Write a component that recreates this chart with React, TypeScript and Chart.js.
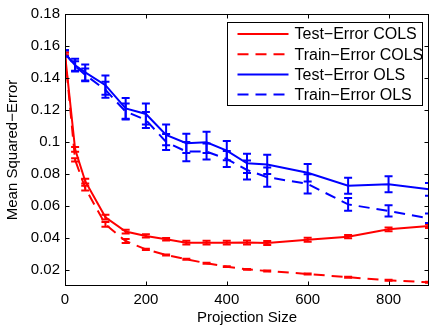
import { useEffect, useRef } from 'react';
import { Chart, registerables } from 'chart.js';

Chart.register(...registerables);

const projectionSizes = [0, 25, 50, 100, 150, 200, 250, 300, 350, 400, 450, 500, 600, 700, 800, 900];

const testCOLS = [0.155, 0.0954, 0.0755, 0.053, 0.044, 0.0413, 0.0392, 0.0371, 0.0371, 0.0371, 0.0372, 0.0369, 0.0389, 0.0408, 0.0454, 0.0475];
const testCOLSErr = [0.001, 0.0015, 0.0015, 0.0015, 0.0012, 0.001, 0.0008, 0.0012, 0.0012, 0.0012, 0.0012, 0.0012, 0.0012, 0.001, 0.0012, 0.0012];
const trainCOLS = [0.155, 0.0888, 0.0712, 0.0485, 0.0381, 0.0329, 0.0294, 0.0267, 0.0242, 0.0221, 0.0204, 0.0194, 0.0175, 0.0155, 0.0136, 0.0123];
const trainCOLSErr = [0.001, 0.001, 0.0015, 0.0015, 0.0012, 0.0004, 0.0003, 0.0003, 0.0003, 0.0003, 0.0003, 0.0003, 0.0003, 0.0003, 0.0003, 0.0003];
const testOLS = [0.1554, 0.148, 0.1435, 0.1355, 0.121, 0.1175, 0.1044, 0.0992, 0.0998, 0.0946, 0.0867, 0.086, 0.0808, 0.0727, 0.0736, 0.0704];
const testOLSErr = [0.002, 0.004, 0.005, 0.006, 0.0065, 0.0065, 0.0065, 0.006, 0.0066, 0.006, 0.006, 0.006, 0.0055, 0.005, 0.005, 0.004];
const trainOLS = [0.1554, 0.1475, 0.142, 0.1326, 0.119, 0.1138, 0.1, 0.094, 0.094, 0.0894, 0.0825, 0.078, 0.0738, 0.061, 0.0569, 0.0523];
const trainOLSErr = [0.002, 0.003, 0.004, 0.005, 0.005, 0.005, 0.005, 0.006, 0.005, 0.005, 0.006, 0.006, 0.006, 0.004, 0.0035, 0.003];

const seriesLabels = ['Test\u2212Error COLS', 'Train\u2212Error COLS', 'Test\u2212Error OLS', 'Train\u2212Error OLS'];
const xTickValues = [0, 200, 400, 600, 800];
const yTickValues = [0.02, 0.04, 0.06, 0.08, 0.1, 0.12, 0.14, 0.16, 0.18];
const yTickLabels = ['0.02', '0.04', '0.06', '0.08', '0.1', '0.12', '0.14', '0.16', '0.18'];
const xAxisTitle = 'Projection Size';
const yAxisTitle = 'Mean Squared\u2212Error';

const FONT_FAMILY = '"Liberation Sans", Arial, Helvetica, sans-serif';
const DASH = [11, 7];

const errorBarsPlugin = {
  id: 'errorBars',
  afterDatasetsDraw(chart: any) {
    const { ctx, chartArea: a, scales } = chart;
    const xs = scales.x;
    const ys = scales.y;
    ctx.save();
    ctx.beginPath();
    ctx.rect(a.left, a.top, a.right - a.left, a.bottom - a.top);
    ctx.clip();
    chart.data.datasets.forEach((ds: any) => {
      const errs: number[] = ds.errors;
      if (!errs) return;
      ctx.strokeStyle = ds.borderColor;
      ctx.lineWidth = 2;
      ctx.setLineDash([]);
      ds.data.forEach((pt: any, i: number) => {
        const px = xs.getPixelForValue(pt.x);
        const yTop = ys.getPixelForValue(pt.y + errs[i]);
        const yBot = ys.getPixelForValue(pt.y - errs[i]);
        const hw = 4;
        ctx.beginPath();
        ctx.moveTo(px, yTop);
        ctx.lineTo(px, yBot);
        ctx.moveTo(px - hw, yTop);
        ctx.lineTo(px + hw, yTop);
        ctx.moveTo(px - hw, yBot);
        ctx.lineTo(px + hw, yBot);
        ctx.stroke();
      });
    });
    ctx.restore();
  },
};

const frameAndLegendPlugin = {
  id: 'frameAndLegend',
  afterDraw(chart: any) {
    const { ctx, chartArea: a, scales } = chart;
    const xs = scales.x;
    const ys = scales.y;
    ctx.save();
    ctx.setLineDash([]);
    ctx.strokeStyle = '#000';
    ctx.lineWidth = 1;
    const L = Math.round(a.left) + 0.5;
    const R = Math.round(a.right) - 0.5;
    const T = Math.round(a.top) + 0.5;
    const B = Math.round(a.bottom) - 0.5;
    ctx.strokeRect(L, T, R - L, B - T);
    const tl = 4;
    ctx.beginPath();
    xTickValues.forEach((v) => {
      const px = Math.round(xs.getPixelForValue(v)) + 0.5;
      ctx.moveTo(px, B);
      ctx.lineTo(px, B - tl);
      ctx.moveTo(px, T);
      ctx.lineTo(px, T + tl);
    });
    yTickValues.forEach((v) => {
      const py = Math.round(ys.getPixelForValue(v)) + 0.5;
      ctx.moveTo(L, py);
      ctx.lineTo(L + tl, py);
      ctx.moveTo(R, py);
      ctx.lineTo(R - tl, py);
    });
    ctx.stroke();

    // legend
    const boxR = Math.round(a.right) - 6.5;
    const boxL = boxR - 195;
    const boxT = Math.round(a.top) + 8.5;
    const boxB = boxT + 83;
    ctx.fillStyle = '#fff';
    ctx.fillRect(boxL, boxT, boxR - boxL, boxB - boxT);
    ctx.strokeStyle = '#000';
    ctx.lineWidth = 1;
    ctx.strokeRect(boxL, boxT, boxR - boxL, boxB - boxT);
    ctx.font = `16px ${FONT_FAMILY}`;
    ctx.textBaseline = 'middle';
    ctx.textAlign = 'left';
    chart.data.datasets.forEach((ds: any, i: number) => {
      const cy = boxT + 11.5 + i * 20.2;
      ctx.strokeStyle = ds.borderColor;
      ctx.lineWidth = 2;
      ctx.setLineDash(ds.borderDash || []);
      ctx.beginPath();
      ctx.moveTo(boxL + 10, cy);
      ctx.lineTo(boxL + 61, cy);
      ctx.stroke();
      ctx.setLineDash([]);
      ctx.fillStyle = '#000';
      ctx.fillText(ds.label, boxL + 67, cy + 1);
    });
    ctx.restore();
  },
};

function toPoints(values: number[]) {
  return values.map((v, i) => ({ x: projectionSizes[i], y: v }));
}

export default function App() {
  const canvasRef = useRef<HTMLCanvasElement | null>(null);

  useEffect(() => {
    if (!canvasRef.current) return;
    const font = { family: FONT_FAMILY, size: 15 };
    const chart = new Chart(canvasRef.current, {
      type: 'line',
      data: {
        datasets: [
          { label: seriesLabels[0], data: toPoints(testCOLS), errors: testCOLSErr, borderColor: '#ff0000', borderWidth: 2, pointRadius: 0, fill: false, tension: 0 } as any,
          { label: seriesLabels[1], data: toPoints(trainCOLS), errors: trainCOLSErr, borderColor: '#ff0000', borderWidth: 2, borderDash: DASH, pointRadius: 0, fill: false, tension: 0 } as any,
          { label: seriesLabels[2], data: toPoints(testOLS), errors: testOLSErr, borderColor: '#0000ff', borderWidth: 2, pointRadius: 0, fill: false, tension: 0 } as any,
          { label: seriesLabels[3], data: toPoints(trainOLS), errors: trainOLSErr, borderColor: '#0000ff', borderWidth: 2, borderDash: DASH, pointRadius: 0, fill: false, tension: 0 } as any,
        ],
      },
      options: {
        responsive: false,
        animation: false,
        devicePixelRatio: 1,
        layout: { padding: { top: 14, right: 1, left: 0, bottom: 0 } },
        plugins: { legend: { display: false }, tooltip: { enabled: false } },
        scales: {
          x: {
            type: 'linear',
            min: 0,
            max: 900,
            afterBuildTicks: (s: any) => { s.ticks = xTickValues.map((v) => ({ value: v })); },
            afterFit: (s: any) => { s.height = 41; },
            grid: { display: false, drawTicks: false },
            border: { display: false },
            ticks: { padding: 5, font, color: '#000', maxRotation: 0, autoSkip: false, callback: (v: any) => String(v) },
            title: { display: true, text: xAxisTitle, font, color: '#000', padding: { top: 0, bottom: 0 } },
          },
          y: {
            type: 'linear',
            min: 0.01,
            max: 0.18,
            afterBuildTicks: (s: any) => { s.ticks = yTickValues.map((v) => ({ value: v })); },
            afterFit: (s: any) => { s.width = 65; },
            grid: { display: false, drawTicks: false },
            border: { display: false },
            ticks: {
              padding: 5,
              font,
              color: '#000',
              autoSkip: false,
              callback: (v: any) => {
                const idx = yTickValues.findIndex((t) => Math.abs(t - v) < 1e-9);
                return idx >= 0 ? yTickLabels[idx] : '';
              },
            },
            title: { display: true, text: yAxisTitle, font, color: '#000', padding: { top: 4, bottom: 0 } },
          },
        },
      } as any,
      plugins: [errorBarsPlugin, frameAndLegendPlugin],
    });
    return () => chart.destroy();
  }, []);

  return (
    <div style={{ position: 'fixed', left: 0, top: 0, width: 430, height: 327, background: '#fff' }}>
      <canvas ref={canvasRef} width={430} height={327} style={{ width: 430, height: 327, display: 'block' }} />
    </div>
  );
}
